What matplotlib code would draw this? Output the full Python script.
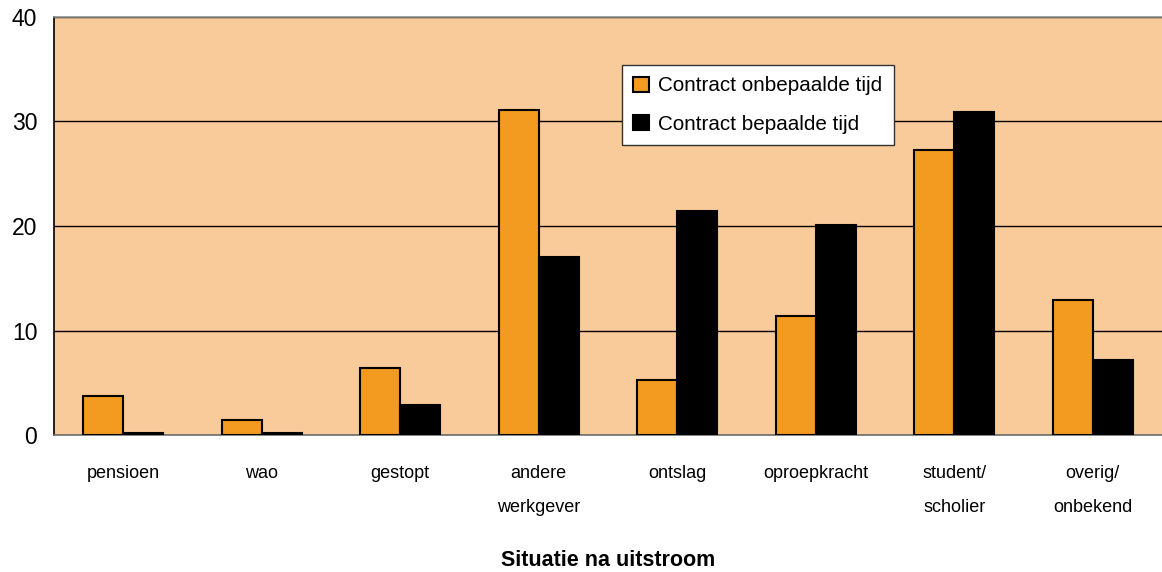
import matplotlib
matplotlib.use("Agg")
import matplotlib.pyplot as plt
import numpy as np

plt.rcParams['font.family'] = ['Liberation Sans', 'DejaVu Sans']

categories = ["pensioen", "wao", "gestopt", "andere\nwerkgever", "ontslag",
              "oproepkracht", "student/\nscholier", "overig/\nonbekend"]
onbepaald = [3.7, 1.4, 6.4, 31.1, 5.3, 11.4, 27.3, 12.9]
bepaald = [0.2, 0.2, 2.9, 17.0, 21.4, 20.1, 30.9, 7.2]
series_names = ["Contract onbepaalde tijd", "Contract bepaalde tijd"]
yticks = [0, 10, 20, 30, 40]

fig = plt.figure(figsize=(11.62, 5.72), dpi=100)
ax = fig.add_axes([54/1162, 137/572, 1 - 54/1162, (435-17)/572])
ax.set_facecolor('#F9CA9A')

x = np.arange(len(categories))
w = 0.29
ax.bar(x - w/2, onbepaald, w, color='#F39A21', edgecolor='black', linewidth=1.5,
       label=series_names[0], zorder=3)
ax.bar(x + w/2, bepaald, w, color='black', edgecolor='black', linewidth=1.5,
       label=series_names[1], zorder=3)

ax.set_xlim(-0.5, len(categories) - 0.5)
ax.set_ylim(0, 40)
ax.set_yticks(yticks)
ax.set_yticklabels([str(t) for t in yticks], fontsize=16.5)
ax.yaxis.grid(True, color='black', linewidth=1.0, zorder=1)
ax.set_axisbelow(True)
ax.tick_params(axis='y', length=0, pad=12)
ax.set_xticks(x)
ax.set_xticklabels(categories, fontsize=13, linespacing=2.35)
ax.tick_params(axis='x', length=0, pad=21.5)

ax.spines['left'].set_color('black')
ax.spines['left'].set_linewidth(1.2)
ax.spines['bottom'].set_color('#707070')
ax.spines['bottom'].set_linewidth(1.2)
ax.spines['top'].set_color('#909090')
ax.spines['top'].set_linewidth(1.2)
ax.spines['right'].set_visible(False)

ax.set_xlabel("Situatie na uitstroom", fontsize=15.5, fontweight='bold', labelpad=24)

leg = ax.legend(loc='upper left', bbox_to_anchor=(622/1162, 1 - 65/572),
                bbox_transform=fig.transFigure, fontsize=14.9, frameon=True,
                fancybox=False, edgecolor='#333333', framealpha=1,
                handlelength=0.75, handleheight=0.75, handletextpad=0.45,
                borderpad=0.55, labelspacing=0.95, borderaxespad=0)
leg.get_frame().set_linewidth(1.0)

fig.savefig("out.png", dpi=100)
